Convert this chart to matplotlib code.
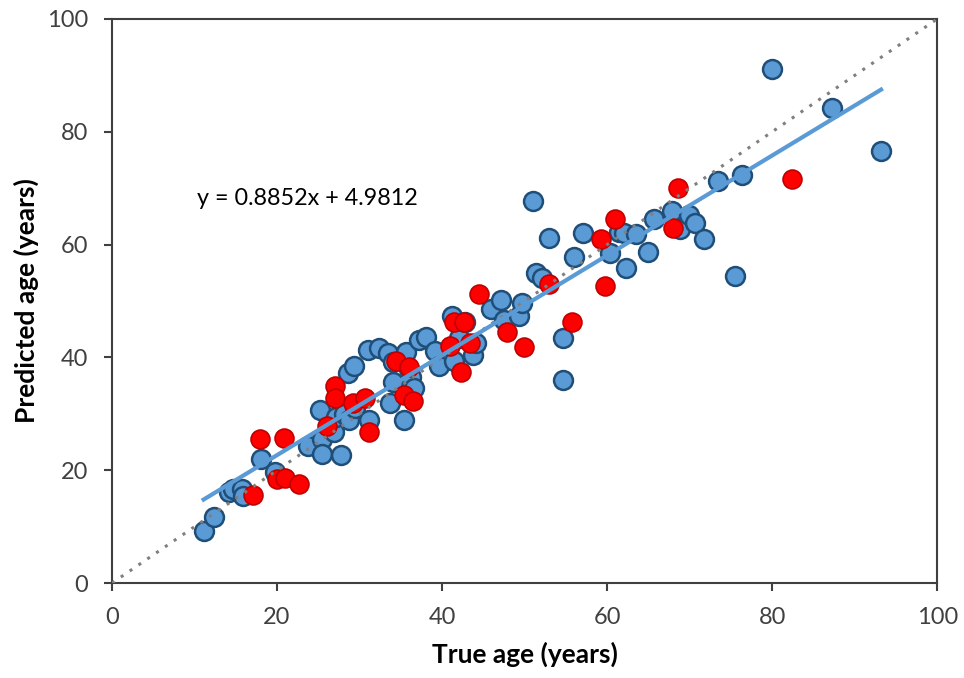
import matplotlib.pyplot as plt
import numpy as np

plt.rcParams['font.family'] = ['Lato', 'DejaVu Sans']

# blue points (true age, predicted age)
blue_x = [11.1, 12.3, 14.2, 14.7, 15.7, 15.9, 18.0, 19.7, 23.8, 25.2, 25.4, 25.5,
          26.9, 27.2, 27.7, 28.1, 28.6, 28.7, 29.3, 29.5, 31.0, 31.1, 32.3, 33.5,
          34.0, 33.7, 34.1, 35.4, 35.6, 36.0, 36.2, 36.6, 37.2, 38.0, 39.2, 39.6,
          41.2, 41.4, 42.0, 42.8, 43.7, 44.1, 45.9, 47.1, 47.5, 49.3, 49.7, 51.0,
          51.4, 52.1, 53.0, 54.7, 54.6, 56.0, 57.1, 60.4, 61.4, 62.0, 62.3, 63.5,
          64.9, 65.7, 67.9, 68.8, 69.9, 70.6, 71.8, 73.4, 75.5, 76.4, 80.0, 87.2, 93.2]
blue_y = [9.2, 11.7, 16.1, 16.7, 16.7, 15.4, 22.0, 19.7, 24.3, 30.7, 25.5, 22.9,
          26.8, 29.4, 22.7, 30.0, 37.2, 28.9, 38.5, 31.0, 41.3, 28.9, 41.7, 40.8,
          39.2, 31.9, 35.6, 28.9, 41.0, 37.9, 36.5, 34.6, 43.1, 43.6, 41.1, 38.5,
          47.3, 39.4, 43.4, 46.3, 40.4, 42.6, 48.6, 50.2, 46.6, 47.3, 49.6, 67.7,
          55.0, 54.1, 61.2, 43.4, 36.0, 57.8, 62.1, 58.5, 62.2, 62.1, 55.9, 61.9,
          58.7, 64.5, 66.0, 62.8, 65.2, 63.8, 61.0, 71.3, 54.4, 72.3, 91.1, 84.2, 76.6]

# red points
red_x = [17.1, 17.9, 20.8, 20.0, 21.0, 22.6, 26.1, 27.0, 27.0, 29.2, 30.6, 31.1,
         34.4, 35.4, 36.0, 36.5, 40.9, 41.5, 42.6, 42.3, 43.4, 44.5, 47.9, 49.9,
         52.9, 55.8, 59.3, 59.8, 60.9, 68.0, 68.6, 82.4]
red_y = [15.6, 25.5, 25.7, 18.4, 18.6, 17.6, 27.8, 34.9, 32.8, 31.9, 32.8, 26.8,
         39.4, 33.3, 38.3, 32.3, 42.0, 46.3, 46.3, 37.4, 42.6, 51.2, 44.5, 41.8,
         53.0, 46.3, 61.0, 52.7, 64.5, 62.9, 70.0, 71.6]

# trendline as reported on the chart
slope = 0.8852
intercept = 4.9812
fit_x = [min(blue_x + red_x), max(blue_x + red_x)]

fig = plt.figure(figsize=(9.64, 6.78), dpi=100)
ax = fig.add_axes([0.1162, 0.140, 0.856, 0.832])

ax.scatter(blue_x, blue_y, s=185, c='#5B9BD5', edgecolors='#1F4E79', linewidths=1.8, zorder=2)
ax.scatter(red_x, red_y, s=185, c='#FF0000', edgecolors='#C00000', linewidths=1.2, zorder=3)

ax.plot([0, 100], [0, 100], linestyle=(0, (1, 2.5)), color='#7F7F7F', linewidth=2.2, zorder=4)
ax.plot(fit_x, [slope * v + intercept for v in fit_x], color='#5B9BD5', linewidth=3, zorder=4)

ax.text(10.3, 67, 'y = 0.8852x + 4.9812', fontsize=16.8, color='black')

ax.set_xlim(0, 100)
ax.set_ylim(0, 100)
ax.set_xticks(range(0, 101, 20))
ax.set_yticks(range(0, 101, 20))
ax.tick_params(labelsize=17, colors='#404040', length=6, width=1.5, labelcolor='#404040')
ax.tick_params(axis='x', pad=11)
ax.tick_params(axis='y', pad=11)
for sp in ax.spines.values():
    sp.set_color('#404040')
    sp.set_linewidth(1.5)

ax.set_xlabel('True age (years)', fontsize=19, fontweight='bold', labelpad=10)
ax.set_ylabel('Predicted age (years)', fontsize=19, fontweight='bold', labelpad=6)

fig.savefig('out.png', dpi=100)
